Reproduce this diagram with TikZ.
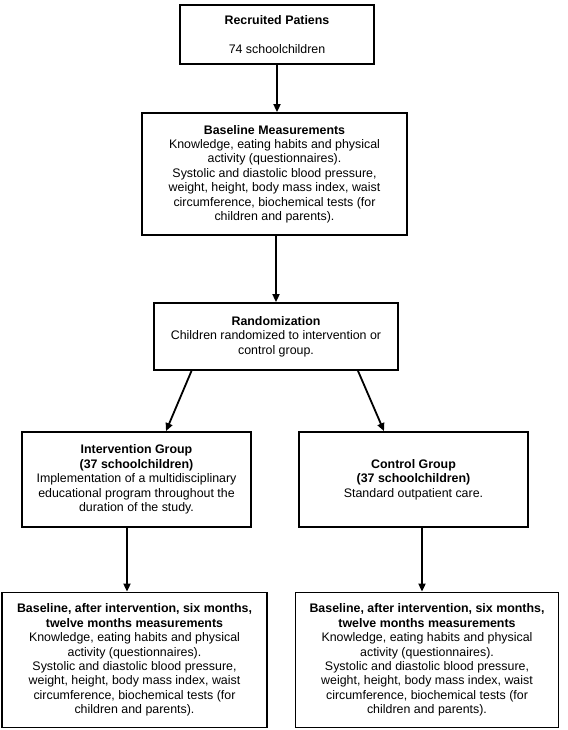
\documentclass[tikz,border=0pt]{standalone}
\usepackage{fontspec}
\setmainfont{Liberation Sans}
\usetikzlibrary{arrows.meta,calc}
\tikzset{
  box/.style={draw=black, line width=1.8pt, rectangle, inner sep=0pt, align=center,
    font=\fontsize{12.4}{14.4}\selectfont, fill=white},
  arr/.style={line width=1.8pt, -{Triangle[length=8pt,width=7pt]}}
}
\begin{document}
\begin{tikzpicture}[x=1pt,y=-1pt]
\useasboundingbox (0,0) rectangle (567,730);
\node[box, minimum width=194pt, minimum height=59pt] (b1) at (277,34.5)
  {\textbf{Recruited Patiens}\\[14pt]74 schoolchildren};
\node[box, minimum width=265pt, minimum height=122pt] (b2) at (274.5,174)
  {\textbf{Baseline Measurements}\\Knowledge, eating habits and physical\\activity (questionnaires).\\Systolic and diastolic blood pressure,\\weight, height, body mass index, waist\\circumference, biochemical tests (for\\children and parents).};
\node[box, minimum width=244pt, minimum height=67pt] (b3) at (276,336.5)
  {\textbf{Randomization}\\Children randomized to intervention or\\control group.};
\node[box, minimum width=229pt, minimum height=95pt] (b4) at (136.5,479.5)
  {\textbf{Intervention Group}\\\textbf{(37 schoolchildren)}\\Implementation of a multidisciplinary\\educational program throughout the\\duration of the study.};
\node[box, minimum width=229pt, minimum height=95pt] (b5) at (413.5,479.5)
  {\textbf{Control Group}\\\textbf{(37 schoolchildren)}\\Standard outpatient care.};
\node[box, minimum width=265pt, minimum height=135pt] (b6) at (134.5,660)
  {\textbf{Baseline, after intervention, six months,}\\\textbf{twelve months measurements}\\Knowledge, eating habits and physical\\activity (questionnaires).\\Systolic and diastolic blood pressure,\\weight, height, body mass index, waist\\circumference, biochemical tests (for\\children and parents).};
\node[box, minimum width=263pt, minimum height=135pt] (b7) at (427,660)
  {\textbf{Baseline, after intervention, six months,}\\\textbf{twelve months measurements}\\Knowledge, eating habits and physical\\activity (questionnaires).\\Systolic and diastolic blood pressure,\\weight, height, body mass index, waist\\circumference, biochemical tests (for\\children and parents).};
\draw[arr] (b1.south) -- (b2.north -| b1.south);
\draw[arr] (b2.south -| b3.north) -- (b3.north);
\draw[arr] ([xshift=-84.5pt]b3.south) -- ([xshift=29.5pt]b4.north);
\draw[arr] ([xshift=82pt]b3.south) -- ([xshift=-29.5pt]b5.north);
\draw[arr] ([xshift=-9.5pt]b4.south) -- ([xshift=-9.5pt]b4.south |- b6.north);
\draw[arr] ([xshift=8.5pt]b5.south) -- ([xshift=8.5pt]b5.south |- b7.north);
\end{tikzpicture}
\end{document}
